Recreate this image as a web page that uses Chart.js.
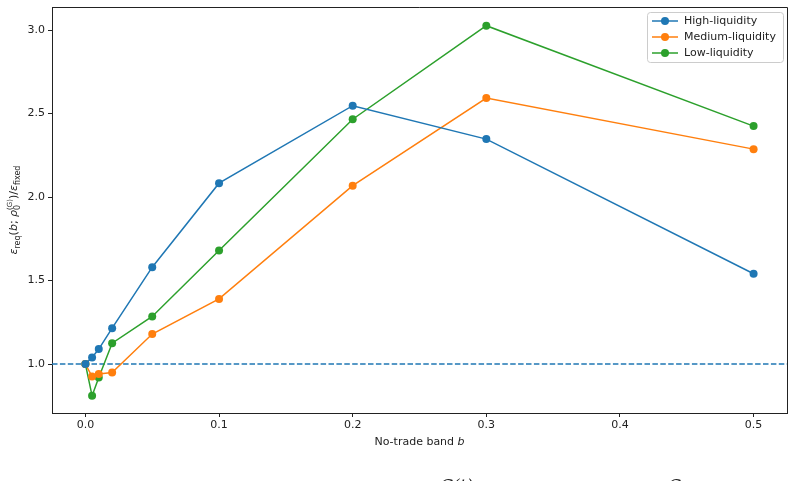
<!DOCTYPE html>
<html>
<head>
<meta charset="utf-8">
<script src="https://cdn.jsdelivr.net/npm/chart.js@4.4.1/dist/chart.umd.min.js"></script>
<style>
  html, body { margin: 0; padding: 0; background: #fff; }
  #wrap { width: 795px; height: 481px; }
</style>
</head>
<body>
<div id="wrap"><canvas id="chart" width="795" height="481"></canvas></div>
<script>
const bands = [0, 0.005, 0.01, 0.02, 0.05, 0.1, 0.2, 0.3, 0.5]
const highLiq = [1.0, 1.04, 1.09, 1.215, 1.58, 2.083, 2.547, 2.347, 1.541]
const medLiq = [1.0, 0.925, 0.94, 0.95, 1.18, 1.39, 2.068, 2.593, 2.287]
const lowLiq = [1.0, 0.81, 0.92, 1.125, 1.285, 1.68, 2.466, 3.026, 2.425]
const xTicks = [0, 0.1, 0.2, 0.3, 0.4, 0.5]
const yTicks = [1.0, 1.5, 2.0, 2.5, 3.0]
const refLevel = 1.0

const BLUE = '#1f77b4', ORANGE = '#ff7f0e', GREEN = '#2ca02c'
const FONT = '"DejaVu Sans", sans-serif'

function pts(ys) {
  return bands.map((b, i) => ({ x: b, y: ys[i] }))
}

function serie(label, ys, color) {
  return {
    label,
    data: pts(ys),
    borderColor: color,
    backgroundColor: color,
    borderWidth: 1.5,
    pointRadius: 4,
    pointHoverRadius: 4,
    pointBorderWidth: 0,
    tension: 0
  }
}

// draw runs of text (for subscripts etc.) starting at x, baseline y
function drawRuns(ctx, runs, x, y, measureOnly) {
  let cx = x
  for (const r of runs) {
    if (r.stack) {
      let w = 0
      for (const s of r.stack) {
        ctx.font = (s.italic ? 'italic ' : '') + s.size + 'px ' + FONT
        if (!measureOnly) ctx.fillText(s.t, cx, y + (s.dy || 0))
        w = Math.max(w, ctx.measureText(s.t).width)
      }
      cx += w
    } else {
      ctx.font = (r.italic ? 'italic ' : '') + r.size + 'px ' + FONT
      if (!measureOnly) ctx.fillText(r.t, cx, y + (r.dy || 0))
      cx += ctx.measureText(r.t).width
    }
  }
  return cx - x
}

const yTitleRuns = [
  { t: 'ε', size: 11, italic: true },
  { t: 'req', size: 8, dy: 2.5 },
  { t: '(', size: 11 },
  { t: 'b', size: 11, italic: true },
  { t: '; ', size: 11 },
  { t: 'ρ', size: 11, italic: true },
  { stack: [{ t: '0', size: 8, dy: 3 }, { t: '(G)', size: 7, dy: -5 }] },
  { t: ')/', size: 11 },
  { t: 'ε', size: 11, italic: true },
  { t: 'fixed', size: 8, dy: 2.5 }
]
const xTitleRuns = [
  { t: 'No-trade band ', size: 11 },
  { t: 'b', size: 11, italic: true }
]

const extras = {
  id: 'extras',
  beforeDatasetsDraw(chart) {
    const { ctx, chartArea: a, scales } = chart
    const y = scales.y.getPixelForValue(refLevel)
    ctx.save()
    ctx.strokeStyle = BLUE
    ctx.lineWidth = 1.5
    ctx.setLineDash([5.5, 2.4])
    ctx.beginPath()
    ctx.moveTo(a.left, y)
    ctx.lineTo(a.right, y)
    ctx.stroke()
    ctx.restore()
  },
  afterDraw(chart) {
    const { ctx, chartArea: a } = chart
    ctx.save()
    ctx.fillStyle = '#222'
    ctx.textBaseline = 'alphabetic'
    // x title
    let w = drawRuns(ctx, xTitleRuns, 0, 0, true)
    drawRuns(ctx, xTitleRuns, (a.left + a.right) / 2 - w / 2, 445)
    // y title
    w = drawRuns(ctx, yTitleRuns, 0, 0, true)
    ctx.save()
    ctx.translate(17, (a.top + a.bottom) / 2)
    ctx.rotate(-Math.PI / 2)
    drawRuns(ctx, yTitleRuns, -w / 2, 0)
    ctx.restore()

    // legend
    const lx = 647, ly = 12, lw = 136, lh = 50
    ctx.fillStyle = 'rgba(255,255,255,0.8)'
    ctx.strokeStyle = '#cccccc'
    ctx.lineWidth = 1
    ctx.beginPath()
    ctx.roundRect(lx + 0.5, ly + 0.5, lw, lh, 3)
    ctx.fill()
    ctx.stroke()
    const items = chart.data.datasets
    items.forEach((ds, i) => {
      const ry = 21 + i * 16
      ctx.strokeStyle = ds.borderColor
      ctx.lineWidth = 1.5
      ctx.beginPath()
      ctx.moveTo(652, ry)
      ctx.lineTo(678, ry)
      ctx.stroke()
      ctx.fillStyle = ds.borderColor
      ctx.beginPath()
      ctx.arc(665, ry, 4, 0, Math.PI * 2)
      ctx.fill()
      ctx.fillStyle = '#222'
      ctx.font = '11px ' + FONT
      ctx.textBaseline = 'middle'
      ctx.fillText(ds.label, 684, ry + 0.5)
    })

    // top and right frame
    ctx.strokeStyle = '#222'
    ctx.lineWidth = 1
    ctx.beginPath()
    ctx.moveTo(a.left, a.top + 0.5)
    ctx.lineTo(a.right + 0.5, a.top + 0.5)
    ctx.lineTo(a.right + 0.5, a.bottom)
    ctx.stroke()

    // clipped caption below the figure
    ctx.fillStyle = '#222'
    ctx.textBaseline = 'alphabetic'
    ctx.font = 'italic 17px "DejaVu Serif", serif'
    ctx.fillText('C(t)', 440, 491)
    ctx.fillText('C', 668, 491)
    ctx.restore()
  }
}

const tickFont = { family: FONT, size: 11 }

new Chart(document.getElementById('chart'), {
  type: 'line',
  data: {
    datasets: [
      serie('High-liquidity', highLiq, BLUE),
      serie('Medium-liquidity', medLiq, ORANGE),
      serie('Low-liquidity', lowLiq, GREEN)
    ]
  },
  options: {
    responsive: false,
    animation: false,
    devicePixelRatio: 1,
    layout: { padding: { left: 0, right: 8, top: 7, bottom: 0 } },
    plugins: {
      legend: { display: false },
      tooltip: { enabled: false }
    },
    scales: {
      x: {
        type: 'linear',
        min: -0.025,
        max: 0.525,
        afterBuildTicks: s => { s.ticks = xTicks.map(v => ({ value: v })) },
        afterFit: s => { s.height = 68; s.paddingLeft = 0; s.paddingRight = 0 },
        ticks: {
          font: tickFont,
          color: '#222',
          padding: 2,
          maxRotation: 0,
          callback: v => v.toFixed(1)
        },
        grid: { drawOnChartArea: false, drawTicks: true, tickLength: 4, color: '#222' },
        border: { display: true, color: '#222', width: 1 }
      },
      y: {
        type: 'linear',
        min: 0.707,
        max: 3.138,
        afterBuildTicks: s => { s.ticks = yTicks.map(v => ({ value: v })) },
        afterFit: s => { s.width = 52; s.paddingTop = 0; s.paddingBottom = 0 },
        ticks: {
          font: tickFont,
          color: '#222',
          padding: 3,
          callback: v => v.toFixed(1)
        },
        grid: { drawOnChartArea: false, drawTicks: true, tickLength: 4, color: '#222' },
        border: { display: true, color: '#222', width: 1 }
      }
    }
  },
  plugins: [extras]
})
</script>
</body>
</html>
